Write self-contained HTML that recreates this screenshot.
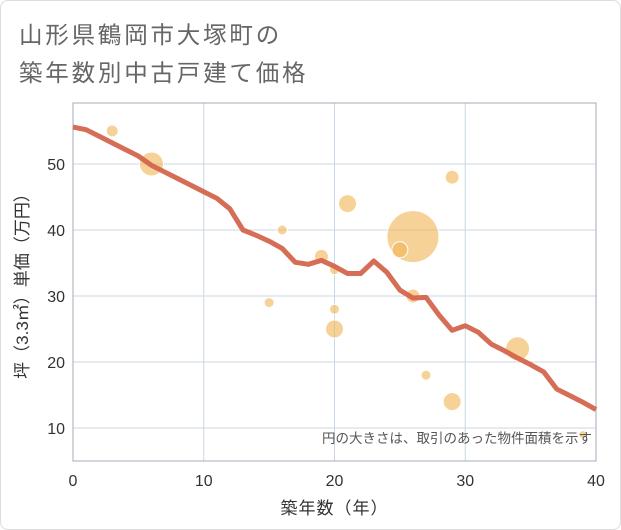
<!DOCTYPE html>
<html><head><meta charset="utf-8"><style>
body{margin:0;background:#fff;}
#wrap{position:relative;width:619px;height:528px;border:1px solid #ddd;border-radius:8px;background:#fff;overflow:hidden;}
.title{position:absolute;left:18px;font-family:"Liberation Sans","Noto Sans CJK JP",sans-serif;font-size:23.5px;color:#666;letter-spacing:2.8px;}
svg text{font-family:"Liberation Sans","Noto Sans CJK JP",sans-serif;}
</style></head><body>
<div id="wrap">
<div class="title" style="top:15px">山形県鶴岡市大塚町の</div>
<div class="title" style="top:53px">築年数別中古戸建て価格</div>
<svg id="chart" width="621" height="530" style="position:absolute;left:-1px;top:-1px"></svg>
</div>
<script>
const lineYears=[0,1,2,3,4,5,6,7,8,9,10,11,12,13,14,15,16,17,18,19,20,21,22,23,24,25,26,27,28,29,30,31,32,33,34,35,36,37,38,39,40];
const lineValues=[55.6,55.2,54.2,53.2,52.2,51.2,49.8,48.8,47.8,46.8,45.8,44.8,43.2,40,39.2,38.3,37.2,35.1,34.8,35.4,34.5,33.4,33.4,35.3,33.6,30.9,29.7,29.8,27.1,24.8,25.5,24.5,22.7,21.7,20.6,19.6,18.5,15.9,14.9,13.9,12.8];
const bubbleYears=[3,6,16,15,19,20,20,20,21,26,25,26,27,29,29,34,39];
const bubbleValues=[55,50,40,29,36,34,28,25,44,39,37,30,18,48,14,22,9];
const bubbleSizes=[6,12,5,5,7,5,5,9,9,26,8,7,5,7,9,12,4];
const xTicks=[0,10,20,30,40];
const yTicks=[10,20,30,40,50];
const L=73,R=596,T=103,B=461;
const x=v=>L+(v/40)*(R-L);
const y=v=>494-v*6.6;
const svg=document.getElementById('chart');
const NS='http://www.w3.org/2000/svg';
function mk(t,a){const e=document.createElementNS(NS,t);for(const k in a)e.setAttribute(k,a[k]);svg.appendChild(e);return e;}
xTicks.forEach(t=>{
 const g=mk('line',{x1:x(t),x2:x(t),y1:T,y2:B,stroke:'#c9d8e6','stroke-width':1});
 
 
 const tx=mk('text',{x:x(t),y:B+25,'text-anchor':'middle','font-size':16,fill:'#333'});tx.textContent=t;
 
 
});
yTicks.forEach(t=>{
 const g=mk('line',{x1:L,x2:R,y1:y(t),y2:y(t),stroke:'#c9d8e6','stroke-width':1});
 
 
 const tx=mk('text',{x:L-8,y:y(t)+6,'text-anchor':'end','font-size':16,fill:'#333'});tx.textContent=t;
 
 
});
const fr=mk('rect',{x:L,y:T,width:R-L,height:B-T,fill:'none',stroke:'#aab','stroke-width':1});


bubbleYears.forEach((yr,i)=>{
 const c=mk('circle',{cx:x(yr),cy:y(bubbleValues[i]),r:bubbleSizes[i],fill:'#f0b454','fill-opacity':0.6,stroke:'#fff','stroke-width':1});
 
 
});
const pts=lineYears.map((yr,i)=>x(yr)+','+y(lineValues[i])).join(' ');
const pl=mk('polyline',{points:pts,fill:'none',stroke:'#d4654d','stroke-width':5,'stroke-linejoin':'round','stroke-opacity':0.95});


const note=mk('text',{x:592,y:443,'text-anchor':'end','font-size':13.5,fill:'#555'});note.textContent='円の大きさは、取引のあった物件面積を示す';


const xt=mk('text',{x:(L+R)/2,y:514,'text-anchor':'middle','font-size':17,fill:'#333','letter-spacing':1});xt.textContent='築年数（年）';


const yt=mk('text',{x:0,y:0,'text-anchor':'middle','font-size':17,fill:'#333',transform:'translate(28,'+((T+B)/2)+') rotate(-90)'});yt.textContent='坪（3.3㎡）単価（万円）';


</script>
</body></html>
